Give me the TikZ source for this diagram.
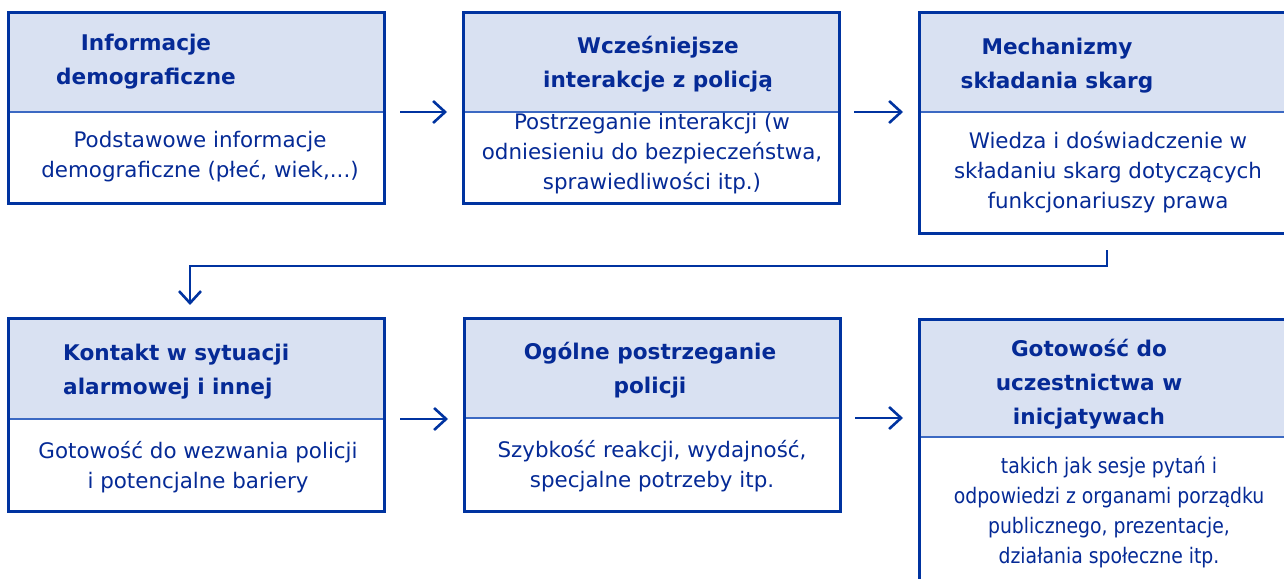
\documentclass[tikz,border=0pt]{standalone}
\usepackage{fontspec}
\setmainfont{DejaVu Sans}
\newfontfamily\narrowfont[FakeStretch=0.88]{DejaVu Sans}
\usetikzlibrary{arrows.meta}
\definecolor{navy}{RGB}{0,51,160}
\definecolor{headfill}{RGB}{217,225,242}
\definecolor{divcol}{RGB}{60,105,195}
\definecolor{txt}{RGB}{5,42,150}
\begin{document}
\begin{tikzpicture}[x=1bp,y=-1bp,
 head/.style={rectangle, fill=headfill, draw=none, outer sep=0pt, inner sep=0pt, minimum width=376bp, anchor=north west},
 bodybox/.style={rectangle, fill=white, draw=none, outer sep=0pt, inner sep=0pt, minimum width=376bp, anchor=north west},
 frame/.style={draw=navy, line width=3bp},
 divider/.style={draw=divcol, line width=1.8bp},
 htext/.style={font=\bfseries\fontsize{21.6bp}{34bp}\selectfont, text=txt, align=center, inner sep=0pt},
 btext/.style={font=\fontsize{21.4bp}{30bp}\selectfont, text=txt, align=center, inner sep=0pt},
 arr/.style={draw=navy, line width=2.6bp, -{Straight Barb[length=12bp,width=22bp]}},
]
\useasboundingbox (0,0) rectangle (1284,579);
\clip (0,0) rectangle (1284,579);

% boxes
\node[head, minimum height=99.5bp] (h1) at (8,12.5) {};
\node[bodybox, minimum height=92bp] (b1) at (8,112) {};
\node[head, minimum height=99.5bp] (h2) at (463,12.5) {};
\node[bodybox, minimum height=92bp] (b2) at (463,112) {};
\node[head, minimum height=99.5bp] (h3) at (919,12.5) {};
\node[bodybox, minimum height=121bp] (b3) at (919,112) {};
\node[head, minimum height=100bp] (h4) at (8,319) {};
\node[bodybox, minimum height=92bp] (b4) at (8,419) {};
\node[head, minimum height=99bp] (h5) at (464,319) {};
\node[bodybox, minimum height=93bp] (b5) at (464,418) {};
\node[head, minimum height=117bp] (h6) at (919,320) {};
\node[bodybox, minimum height=180bp] (b6) at (919,437) {};

\foreach \i in {1,...,6}{
  \draw[divider] (h\i.south west) -- (h\i.south east);
  \draw[frame] (h\i.north west) rectangle (b\i.south east);
}

% heading texts
\node[htext] (t1) at (146,61.5) {Informacje\\demograficzne};
\node[htext] (t2) at (658,64.5) {Wcześniejsze\\interakcje z policją};
\node[htext] (t3) at (1057,66) {Mechanizmy\\składania skarg};
\node[htext, align=left, anchor=west] (t4) at (63,371.5) {Kontakt w sytuacji\\alarmowej i innej};
\node[htext] (t5) at (650,370.5) {Ogólne postrzeganie\\policji};
\node[htext] (t6) at (1089,384.5) {Gotowość do\\uczestnictwa w\\inicjatywach};

% body texts
\node[btext] (s1) at (200,157) {Podstawowe informacje\\demograficzne (płeć, wiek,...)};
\node[btext] (s2) at (652,154) {Postrzeganie interakcji (w\\odniesieniu do bezpieczeństwa,\\sprawiedliwości itp.)};
\node[btext] (s3) at (1108,172.5) {Wiedza i doświadczenie w\\składaniu skarg dotyczących\\funkcjonariuszy prawa};
\node[btext] (s4) at (198,467) {Gotowość do wezwania policji\\i potencjalne bariery};
\node[btext] (s5) at (652,466.5) {Szybkość reakcji, wydajność,\\specjalne potrzeby itp.};
\node[btext, font=\narrowfont\fontsize{21.4bp}{30bp}\selectfont] (s6) at (1109,512) {takich jak sesje pytań i\\odpowiedzi z organami porządku\\publicznego, prezentacje,\\działania społeczne itp.};

% connectors
\draw[arr, shorten <=16bp, shorten >=16bp] (h1.south east) -- (h2.south west);
\draw[arr, shorten <=15bp, shorten >=16bp] (h2.south east) -- (h3.south west);
\draw[arr, shorten <=16bp, shorten >=16bp] (h4.south east) -- (h4.south east -| h5.west);
\draw[arr, shorten <=15bp, shorten >=16bp] (h5.south east) -- (h5.south east -| h6.west);
\coordinate (c1) at (190,266);
\draw[arr, shorten <=17bp, shorten >=14bp] (b3.south) |- (c1) -- (c1 |- h4.north);
\end{tikzpicture}
\end{document}
